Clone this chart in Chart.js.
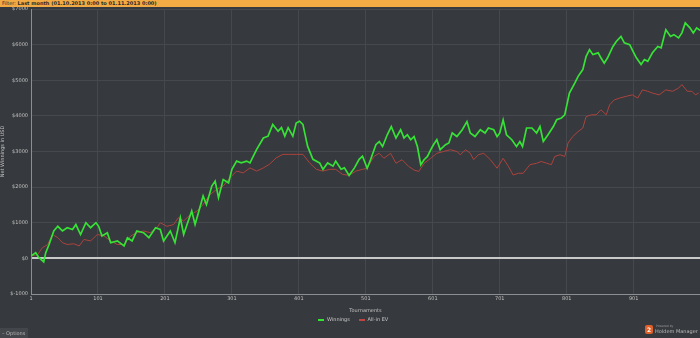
<!DOCTYPE html>
<html>
<head>
<meta charset="utf-8">
<script src="https://cdn.jsdelivr.net/npm/chart.js@4/dist/chart.umd.min.js"></script>
<style>
  html, body { margin: 0; padding: 0; background: #36393d; }
  #wrap { position: relative; width: 700px; height: 338px; overflow: hidden; font-family: "DejaVu Sans", sans-serif; }
  #topbar { position: absolute; left: 0; top: 0; width: 700px; height: 7px; background: #f2aa45; color: #2a2a2a; font-size: 5px; line-height: 7px; padding-left: 2px; box-sizing: border-box; white-space: nowrap; }
  #topbar b { font-weight: bold; }
  #legend { position: absolute; top: 316px; left: 318px; font-size: 5px; color: #c8c8c8; white-space: nowrap; }
  #legend span.sw { display: inline-block; width: 6px; height: 2px; vertical-align: middle; margin-right: 3px; }
  #legend span.it { margin-right: 7px; }
  #options { position: absolute; left: 0; top: 328px; width: 28px; height: 10px; background: #43464a; color: #b8b8b8; font-size: 5px; line-height: 10px; padding-left: 2px; box-sizing: border-box; white-space: nowrap; }
  #logo { position: absolute; left: 645px; top: 325px; width: 8px; height: 9px; background: #e0602a; border-radius: 2px; color: #fff; font-size: 6px; font-weight: bold; text-align: center; line-height: 9px; }
  #powered { position: absolute; left: 656px; top: 324px; font-size: 3px; color: #9a9a9a; white-space: nowrap; }
  #hm { position: absolute; left: 655px; top: 328px; font-size: 5px; color: #b8b8b8; white-space: nowrap; }
  canvas { position: absolute; left: 0; top: 0; }
</style>
</head>
<body>
<div id="wrap">
  <canvas id="netChart" width="700" height="338"></canvas>
  <div id="topbar">Filter: <b>Last month (01.10.2013 0:00 to 01.11.2013 0:00)</b></div>
  <div id="legend">
    <span class="sw" style="background:#37e237"></span><span class="it">Winnings</span>
    <span class="sw" style="background:#c0453f"></span><span>All-in EV</span>
  </div>
  <div id="options">&#8211; Options</div>
  <div id="logo">2</div>
  <div id="powered">Powered by</div>
  <div id="hm">Holdem Manager</div>
</div>
<script>
// x tick labels (tournament numbers)
const tickTournaments = [1, 101, 201, 301, 401, 501, 601, 701, 801, 901];

// Winnings (green)
const winTourn = [1, 8, 13, 20, 23, 28, 35, 41, 48, 55, 63, 68, 75, 83, 90, 98, 102, 107, 115, 120,
  130, 140, 145, 152, 159, 169, 177, 187, 194, 199, 204, 209, 216, 224, 229, 234, 241, 246, 251, 258,
  263, 271, 276, 281, 288, 296, 301, 308, 315, 323, 328, 338, 348, 355, 362, 370, 375, 380, 385, 392,
  397, 402, 407, 414, 422, 432, 437, 444, 452, 456, 464, 469, 476, 484, 491, 496,
  503, 508, 516, 521, 526, 533, 539, 546, 553, 558, 563, 568, 573, 578, 583, 588, 593, 598, 602, 607,
  612, 620, 625, 630, 637, 645, 652, 657, 664, 672, 679, 684, 692, 697, 701, 706, 711, 719, 726, 731,
  735, 741, 749, 756, 761, 766, 773, 781, 786, 793, 798, 805, 813, 818, 825, 830, 835, 840, 848, 852,
  857, 862, 870, 875, 882, 887, 895, 900, 905, 912, 917, 922, 929, 937, 942, 949, 956, 961, 968, 973,
  978, 985, 990, 995, 1000];
const winVals = [65, 160, 20, -100, 160, 390, 770, 900, 770, 860, 810, 950, 670, 1000, 860, 1000, 900, 630, 720, 440,
  490, 350, 580, 490, 770, 720, 580, 860, 810, 490, 630, 770, 440, 1140, 670, 950, 1330, 950, 1280, 1750,
  1510, 2030, 2170, 1700, 2210, 2120, 2500, 2730, 2680, 2730, 2680, 3060, 3380, 3430, 3760, 3570, 3670, 3430, 3670, 3430,
  3800, 3850, 3760, 3150, 2780, 2680, 2500, 2680, 2590, 2730, 2500, 2540, 2330, 2540, 2780, 2870,
  2530, 2770, 3190, 3280, 3140, 3470, 3700, 3380, 3610, 3380, 3470, 3330, 3420, 3140, 2630, 2770, 2860, 3050, 3190, 3330,
  3050, 3190, 3240, 3520, 3420, 3610, 3840, 3520, 3420, 3610, 3520, 3660, 3610, 3420, 3520, 3890, 3470, 3330, 3140, 3280,
  3140, 3660, 3660, 3520, 3700, 3280, 3470, 3700, 3890, 3940, 4030, 4640, 4920, 5110, 5300, 5670, 5860, 5720, 5770, 5630,
  5480, 5630, 5950, 6090, 6230, 6050, 6000, 5810, 5630, 5440, 5580, 5530, 5770, 5950, 5910, 6420, 6230, 6280, 6190, 6330,
  6610, 6470, 6330, 6470, 6400];

// All-in EV (red)
const evTourn = [1, 11, 18, 26, 33, 41, 48, 55, 65, 73, 80, 90, 100, 110, 120, 130, 140, 150, 159, 169,
  179, 189, 194, 204, 214, 221, 229, 239, 249, 258, 268, 278, 288, 298, 308, 318, 328, 338, 348, 357,
  367, 377, 387, 397, 407, 417, 427, 437, 447, 456, 466, 476, 486, 496,
  503, 513, 521, 528, 538, 546, 555, 565, 573, 580, 588, 598, 607, 617, 627, 637, 642, 650, 657, 662,
  669, 677, 687, 697, 706, 714, 721, 729, 736, 746, 756, 763, 771, 778, 783, 791, 798, 803, 810, 818,
  825, 830, 838, 845, 852, 860, 865, 872, 880, 890, 899, 907, 914, 922, 929, 939, 949, 959, 968, 973,
  981, 988, 993, 998];
const evVals = [65, 110, 300, 390, 670, 580, 440, 390, 410, 350, 530, 490, 670, 630, 490, 390, 390, 630, 720, 770,
  720, 860, 1000, 900, 950, 1140, 1050, 1230, 1330, 1510, 1790, 1930, 2030, 2260, 2450, 2400, 2540, 2450, 2540, 2640,
  2820, 2920, 2920, 2920, 2920, 2680, 2500, 2450, 2500, 2500, 2360, 2330, 2450, 2500,
  2530, 2860, 2950, 2810, 2950, 2670, 2770, 2580, 2480, 2440, 2670, 2810, 2950, 3000, 3050, 3000, 2910, 3050, 2950, 2770,
  2910, 2950, 2770, 2530, 2810, 2580, 2340, 2390, 2390, 2630, 2670, 2720, 2670, 2630, 2860, 2910, 2860, 3240, 3420, 3560,
  3660, 3980, 4030, 4030, 4170, 4030, 4310, 4450, 4500, 4550, 4590, 4500, 4730, 4690, 4640, 4590, 4730, 4690, 4780, 4880,
  4690, 4690, 4590, 4640];

const toPoints = (xs, ys) => xs.map((x, i) => ({ x: x, y: ys[i] }));

const tickFont = { family: 'DejaVu Sans', size: 5 };
const ctx = document.getElementById('netChart').getContext('2d');

new Chart(ctx, {
  type: 'line',
  data: {
    datasets: [
      {
        label: 'Winnings',
        data: toPoints(winTourn, winVals),
        borderColor: '#37e237',
        borderWidth: 1.7,
        pointRadius: 0,
        tension: 0,
        order: 1
      },
      {
        label: 'All-in EV',
        data: toPoints(evTourn, evVals),
        borderColor: '#ad433e',
        borderWidth: 1,
        pointRadius: 0,
        tension: 0,
        order: 2
      }
    ]
  },
  options: {
    responsive: false,
    animation: false,
    layout: { padding: { left: 0, right: 0, top: 9, bottom: 24 } },
    plugins: {
      legend: { display: false },
      tooltip: { enabled: false }
    },
    scales: {
      x: {
        type: 'linear',
        min: 1,
        max: 1000,
        afterBuildTicks: (scale) => { scale.ticks = tickTournaments.map(v => ({ value: v })); },
        afterFit: (scale) => { scale.height = 20; },
        ticks: { color: '#c0c0c0', font: tickFont, padding: 2, maxRotation: 0, autoSkip: false },
        grid: { color: '#45484c', lineWidth: 1, drawTicks: false },
        border: { color: '#8b8e92', width: 1 },
        title: { display: true, text: 'Tournaments', color: '#c0c0c0', font: tickFont, padding: { top: 2, bottom: 0 } }
      },
      y: {
        min: -1000,
        max: 7000,
        afterFit: (scale) => { scale.width = 31; },
        ticks: {
          stepSize: 1000,
          color: '#c0c0c0',
          font: tickFont,
          padding: 3,
          callback: (v) => '$' + v
        },
        grid: {
          drawTicks: false,
          color: (c) => c.tick && c.tick.value === 0 ? '#c9c9c9' : '#45484c',
          lineWidth: (c) => c.tick && c.tick.value === 0 ? 2 : 1
        },
        border: { color: '#8b8e92', width: 1 },
        title: { display: true, text: 'Net Winnings in USD', color: '#c0c0c0', font: tickFont, padding: 0 }
      }
    }
  }
});
</script>
</body>
</html>
